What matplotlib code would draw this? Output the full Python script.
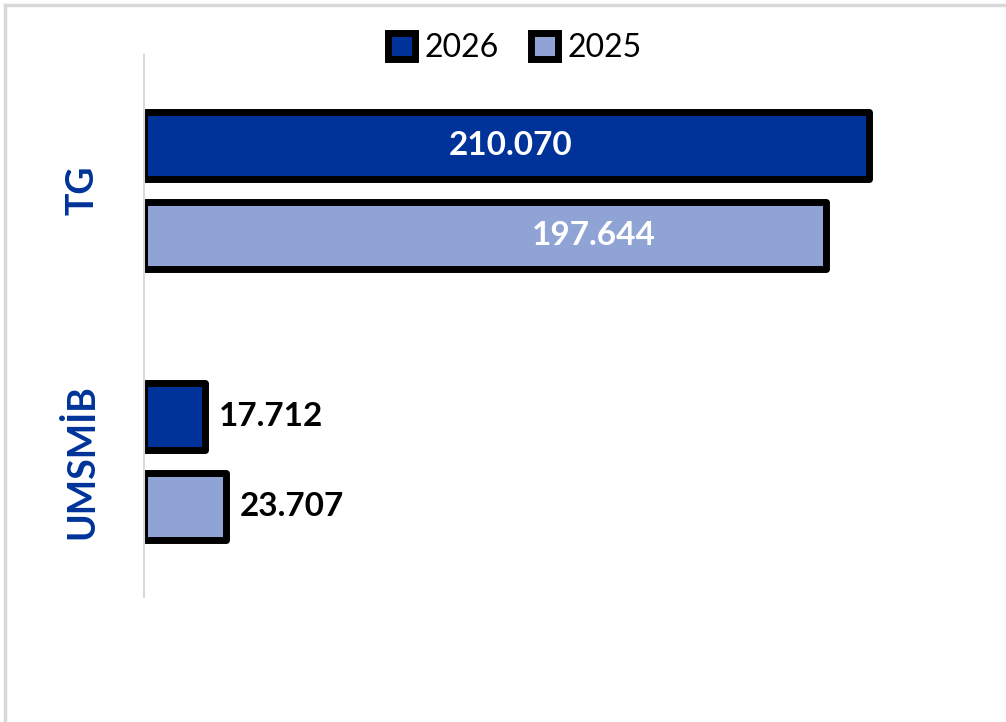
import matplotlib.pyplot as plt
from matplotlib.lines import Line2D
from matplotlib.patches import Patch

categories = ["TG", "UMSMİB"]
years = ["2026", "2025"]
values_2026 = [210070, 17712]
values_2025 = [197644, 23707]
labels_2026 = ["210.070", "17.712"]
labels_2025 = ["197.644", "23.707"]

dark_blue = "#003399"
light_blue = "#8fa4d4"
font = "Lato"

fig = plt.figure(figsize=(10.06, 7.22), dpi=100)
# outer light frame (only left and top visible)
fx, fy = 5 / 1006, 1 - 5 / 722
fig.add_artist(Line2D([fx, fx], [0, fy], transform=fig.transFigure,
                      color="#d9d9d9", linewidth=2.5))
fig.add_artist(Line2D([fx, 1], [fy, fy], transform=fig.transFigure,
                      color="#d9d9d9", linewidth=2.5))

ax = fig.add_axes([144 / 1006, 125 / 722, 846 / 1006, 542 / 722])
ax.set_xlim(0, 245000)
ax.set_ylim(1.5, -0.5)

off = 0.166
h = 0.25
pos = range(len(categories))
y26 = [p - off for p in pos]
y25 = [p + off for p in pos]
b1 = ax.barh(y26, values_2026, height=h, color=dark_blue, edgecolor="black", linewidth=5)
b2 = ax.barh(y25, values_2025, height=h, color=light_blue, edgecolor="black", linewidth=5)
for b in list(b1) + list(b2):
    b.set_joinstyle("round")

# value labels: big bars inside (white), small bars outside (black)
inside_frac_2026 = 0.505
inside_frac_2025 = 0.659
for i in pos:
    for y, v, lab, frac in [(y26[i], values_2026[i], labels_2026[i], inside_frac_2026),
                            (y25[i], values_2025[i], labels_2025[i], inside_frac_2025)]:
        if v > 100000:
            ax.text(v * frac, y, lab, ha="center", va="center", color="white",
                    fontsize=24, fontweight="bold", family=font)
        else:
            ax.annotate(lab, (v, y), xytext=(10, 0), textcoords="offset points",
                        ha="left", va="center", color="black",
                        fontsize=24, fontweight="bold", family=font)

ax.set_yticks(list(pos))
ax.set_yticklabels(categories, rotation=90, va="center", color=dark_blue,
                   fontsize=27, fontweight="bold", family=font)
ax.tick_params(axis="y", length=0, pad=32)
ax.set_xticks([])
for s in ["top", "right", "bottom"]:
    ax.spines[s].set_visible(False)
ax.spines["left"].set_color("#d9d9d9")
ax.spines["left"].set_linewidth(1.5)

handles = [Patch(facecolor=dark_blue, edgecolor="black", linewidth=5, label=years[0]),
           Patch(facecolor=light_blue, edgecolor="black", linewidth=5, label=years[1])]
fig.legend(handles=handles, loc="center", bbox_to_anchor=(515 / 1006, 1 - 48 / 722),
           ncol=2, frameon=False, handlelength=0.85, handleheight=0.85,
           handletextpad=0.3, columnspacing=1.0,
           prop={"family": font, "size": 23})

fig.savefig("out.png", dpi=100)
